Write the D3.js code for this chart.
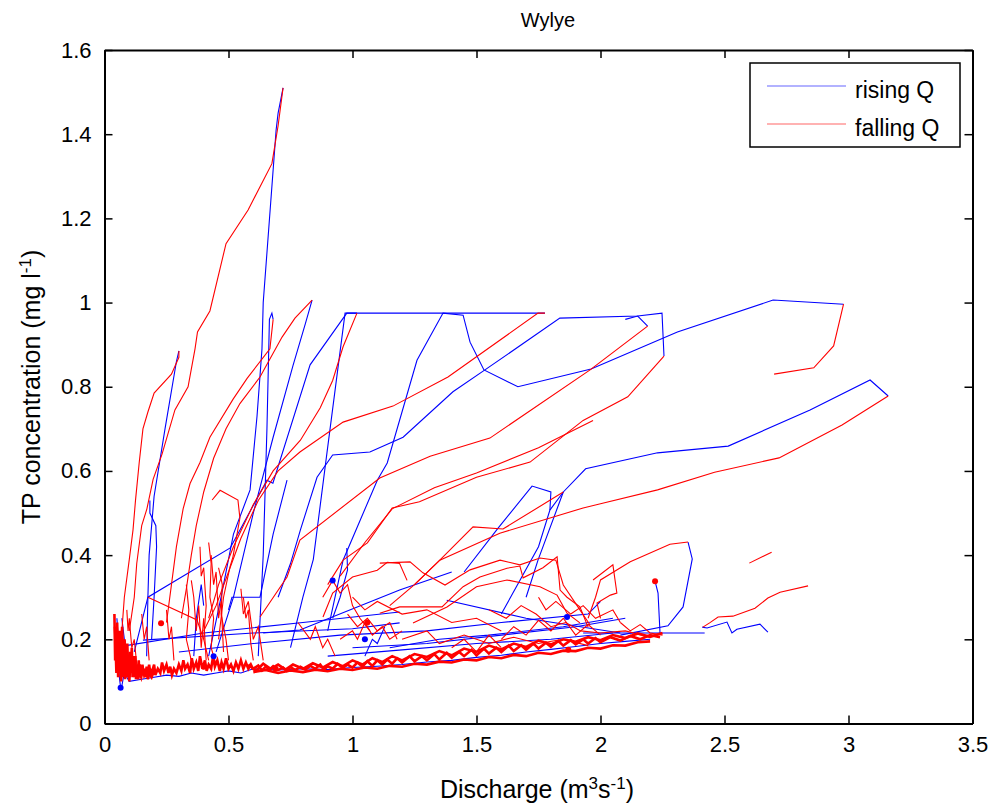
<!DOCTYPE html>
<html>
<head>
<meta charset="utf-8">
<script src="https://cdn.jsdelivr.net/npm/d3@7"></script>
<style>
  body { margin: 0; background: #fff; }
  text { font-family: "Liberation Sans", Arial, sans-serif; fill: #000; }
</style>
</head>
<body>
<svg width="995" height="810"></svg>
<script>
// axis ticks
const xTicks = [0, 0.5, 1, 1.5, 2, 2.5, 3, 3.5];
const yTicks = [0, 0.2, 0.4, 0.6, 0.8, 1, 1.2, 1.4, 1.6];

// storm events: rising limb (blue) and falling limb (red), [Q, TP]
const risingLimbs = [
  [[0.42,0.16],[0.47,0.3],[0.52,0.45],[0.587,0.555],[0.615,0.73],[0.635,0.89],[0.64,1.0],[0.692,1.41],[0.70,1.45],[0.72,1.51]],
  [[0.17,0.16],[0.175,0.30],[0.18,0.40],[0.2,0.54],[0.244,0.70],[0.29,0.86],[0.30,0.885]],
  [[0.62,0.16],[0.64,0.4],[0.655,0.7],[0.665,0.96],[0.675,0.975],[0.68,0.96]],
  [[0.45,0.17],[0.52,0.30],[0.60,0.50],[0.68,0.68],[0.76,0.85],[0.81,0.95],[0.837,1.006]],
  [[0.12,0.17],[0.175,0.30],[0.507,0.417],[0.655,0.578],[0.679,0.571],[0.829,0.852],[0.977,0.975],[1.776,0.975]],
  [[0.75,0.18],[0.80,0.30],[0.842,0.39],[0.897,0.643],[0.97,0.975],[1.018,0.975]],
  [[0.90,0.22],[0.962,0.388],[1.10,0.578],[1.14,0.619],[1.26,0.863],[1.365,0.975],[1.446,0.970],[1.474,0.906],[1.530,0.840],[1.667,0.80],[1.962,0.842],[2.31,0.93],[2.696,1.006],[2.98,0.996]],
  [[0.70,0.30],[0.75,0.38],[0.79,0.46],[0.857,0.585],[0.92,0.638],[1.07,0.645],[1.204,0.68],[1.405,0.788],[1.534,0.84],[1.836,0.963],[2.15,0.968],[2.248,0.975],[2.256,0.873]],
  [[2.10,0.96],[2.15,0.968],[2.19,0.944]],
  [[1.60,0.26],[1.75,0.42],[1.796,0.507],[1.85,0.55],[1.94,0.605],[2.23,0.643],[2.515,0.659],[2.845,0.745],[3.087,0.816],[3.16,0.778]],
  [[1.45,0.36],[1.587,0.464],[1.724,0.564],[1.80,0.55],[1.796,0.507]],
  [[1.70,0.30],[1.748,0.388],[1.85,0.55]],
  [[0.50,0.27],[0.514,0.30],[0.627,0.30],[0.68,0.45],[0.736,0.578]],
  [[2.08,0.21],[2.272,0.232],[2.333,0.277],[2.37,0.391],[2.353,0.431]],
  [[2.24,0.215],[2.232,0.31],[2.22,0.338]],
  [[2.41,0.229],[2.43,0.227],[2.51,0.241],[2.53,0.215],[2.55,0.224],[2.643,0.236],[2.675,0.217]],
  [[0.055,0.182],[0.40,0.215],[0.80,0.24],[1.19,0.265]],
  [[0.155,0.198],[0.60,0.215],[1.0,0.225],[1.19,0.239]],
  [[0.64,0.215],[0.788,0.222],[1.19,0.317],[1.40,0.36]],
  [[1.38,0.293],[1.70,0.25],[2.08,0.215]],
  [[1.93,0.215],[2.20,0.215],[2.42,0.215]],
  [[0.183,0.53],[0.183,0.50],[0.207,0.47],[0.21,0.42],[0.20,0.30],[0.19,0.2]],
  [[0.977,0.417],[0.98,0.365],[0.95,0.30],[0.92,0.25]],
  [[0.05,0.25],[0.06,0.16],[0.05,0.12]],
  [[1.15,0.18],[1.35,0.20],[1.55,0.21],[1.85,0.23],[2.05,0.25]],
  [[0.30,0.17],[0.60,0.19],[0.95,0.21],[1.30,0.22],[1.60,0.24],[1.95,0.26],[2.0,0.29]],
  [[1.0,0.18],[1.3,0.19],[1.6,0.21],[1.9,0.23],[2.1,0.25]],
  [[0.9,0.16],[1.2,0.175],[1.5,0.19],[1.8,0.2],[2.05,0.215]],
  [[0.07,0.25],[0.08,0.2],[0.1,0.15]],
  [[0.36,0.16],[0.37,0.25],[0.39,0.33],[0.40,0.28]],
  [[1.05,0.16],[1.08,0.2],[1.1,0.19],[1.13,0.23]]
];

const fallingLimbs = [
  [[0.72,1.51],[0.70,1.42],[0.675,1.33],[0.579,1.22],[0.49,1.14],[0.425,0.98],[0.375,0.93],[0.365,0.89],[0.337,0.80],[0.284,0.745],[0.232,0.64],[0.196,0.58],[0.171,0.51],[0.15,0.47],[0.13,0.38],[0.12,0.3],[0.1,0.22]],
  [[0.30,0.885],[0.30,0.87],[0.27,0.83],[0.20,0.785],[0.175,0.74],[0.155,0.70],[0.14,0.62],[0.125,0.53],[0.115,0.46],[0.1,0.39],[0.08,0.30],[0.07,0.22],[0.06,0.17]],
  [[0.68,0.96],[0.667,0.89],[0.575,0.82],[0.518,0.77],[0.425,0.68],[0.385,0.62],[0.345,0.57],[0.317,0.51],[0.29,0.42],[0.27,0.33],[0.25,0.24]],
  [[0.837,1.006],[0.768,0.963],[0.716,0.918],[0.627,0.823],[0.546,0.76],[0.49,0.70],[0.44,0.63],[0.40,0.55],[0.37,0.47],[0.35,0.40],[0.33,0.32],[0.31,0.25]],
  [[1.776,0.975],[1.748,0.975],[1.385,0.823],[1.163,0.754],[0.962,0.716],[0.788,0.645],[0.70,0.60],[0.62,0.53],[0.55,0.44],[0.50,0.36],[0.45,0.28],[0.40,0.22]],
  [[1.018,0.975],[0.962,0.895],[0.92,0.815],[0.87,0.75],[0.79,0.673],[0.68,0.60],[0.60,0.52],[0.52,0.42],[0.46,0.33],[0.42,0.25]],
  [[2.98,0.996],[2.94,0.897],[2.86,0.845],[2.70,0.83]],
  [[2.256,0.873],[2.11,0.776],[1.93,0.72],[1.716,0.621],[1.50,0.585],[1.27,0.527],[1.16,0.512],[1.06,0.429],[0.962,0.388],[0.90,0.33]],
  [[2.19,0.944],[1.958,0.84],[1.554,0.678],[1.313,0.635],[1.11,0.583],[0.788,0.436],[0.736,0.348],[0.627,0.253]],
  [[3.16,0.778],[2.974,0.709],[2.72,0.631],[2.46,0.597],[2.23,0.555],[2.0,0.522],[1.93,0.512],[1.594,0.452],[1.352,0.388],[1.25,0.33],[1.15,0.28]],
  [[1.85,0.55],[1.607,0.462],[1.486,0.467],[1.352,0.388],[1.25,0.33]],
  [[1.97,0.72],[1.75,0.655],[1.50,0.595],[1.33,0.56],[1.16,0.51],[1.05,0.43],[0.95,0.35]],
  [[2.353,0.431],[2.28,0.426],[2.12,0.384],[2.0,0.341],[1.98,0.30],[1.95,0.25]],
  [[2.60,0.381],[2.69,0.407]],
  [[2.837,0.327],[2.724,0.312],[2.675,0.298],[2.623,0.274],[2.534,0.255],[2.474,0.253],[2.44,0.239],[2.413,0.229]],
  [[1.11,0.262],[1.19,0.277],[1.361,0.277],[1.446,0.325],[1.514,0.348],[1.623,0.369],[1.675,0.374],[1.688,0.346],[1.768,0.37],[1.825,0.396],[1.837,0.317],[1.865,0.30],[1.917,0.277],[1.95,0.229]],
  [[1.244,0.239],[1.381,0.277],[1.50,0.325],[1.623,0.341],[1.756,0.325],[1.825,0.305],[1.865,0.262],[1.917,0.239]],
  [[1.11,0.381],[1.232,0.384],[1.284,0.358],[1.373,0.329],[1.474,0.365],[1.595,0.388],[1.675,0.377],[1.756,0.393],[1.82,0.388],[1.85,0.329],[1.917,0.27],[1.958,0.234]],
  [[1.97,0.341],[2.05,0.377],[2.066,0.31],[2.04,0.305],[1.986,0.286],[2.0,0.25]],
  [[0.881,0.253],[0.92,0.31],[1.0,0.348],[1.1,0.364],[1.14,0.383],[1.19,0.38],[1.22,0.34]],
  [[0.95,0.20],[1.0,0.22],[1.02,0.2],[1.05,0.24],[1.08,0.21],[1.12,0.23],[1.15,0.2],[1.2,0.22]],
  [[0.88,0.30],[0.92,0.34],[0.95,0.31],[0.98,0.33],[1.0,0.28],[1.03,0.25],[1.07,0.22]],
  [[0.434,0.531],[0.466,0.554],[0.538,0.531],[0.546,0.488],[0.518,0.396],[0.506,0.372],[0.48,0.30],[0.46,0.2]],
  [[0.175,0.30],[0.373,0.246],[0.40,0.20]],
  [[0.35,0.34],[0.36,0.30],[0.37,0.22],[0.38,0.28],[0.39,0.18],[0.40,0.25],[0.41,0.15]],
  [[0.43,0.40],[0.44,0.33],[0.45,0.36],[0.46,0.25],[0.47,0.29],[0.48,0.17]],
  [[0.55,0.32],[0.56,0.26],[0.58,0.29],[0.60,0.2],[0.62,0.23],[0.64,0.15]],
  [[0.15,0.26],[0.16,0.20],[0.17,0.23],[0.18,0.15]],
  [[1.60,0.20],[1.65,0.23],[1.70,0.21],[1.75,0.245],[1.80,0.22],[1.85,0.25],[1.90,0.21],[1.95,0.235],[2.0,0.21]],
  [[1.40,0.18],[1.45,0.2],[1.50,0.17],[1.55,0.21],[1.60,0.18]],
  [[0.42,0.43],[0.43,0.38],[0.425,0.3],[0.44,0.25],[0.43,0.18],[0.45,0.14]],
  [[0.385,0.42],[0.39,0.35],[0.40,0.37],[0.41,0.28],[0.40,0.2],[0.42,0.15]],
  [[0.33,0.33],[0.34,0.27],[0.33,0.2],[0.35,0.15]],
  [[0.46,0.37],[0.475,0.33],[0.47,0.26],[0.49,0.2],[0.5,0.15]],
  [[0.56,0.30],[0.57,0.25],[0.58,0.27],[0.59,0.19],[0.6,0.15]],
  [[0.25,0.27],[0.26,0.2],[0.27,0.23],[0.28,0.15]],
  [[1.0,0.30],[1.05,0.27],[1.1,0.29],[1.2,0.26],[1.3,0.27],[1.4,0.24],[1.5,0.25],[1.6,0.22]],
  [[1.2,0.20],[1.3,0.22],[1.35,0.19],[1.45,0.21],[1.55,0.19],[1.65,0.205],[1.75,0.19],[1.85,0.2],[1.95,0.185]],
  [[1.55,0.27],[1.62,0.25],[1.68,0.28],[1.74,0.26],[1.8,0.23],[1.86,0.24],[1.92,0.22],[2.0,0.215],[2.1,0.22],[2.2,0.205]],
  [[1.75,0.30],[1.78,0.27],[1.82,0.29],[1.88,0.26],[1.93,0.28],[1.98,0.25],[2.05,0.27],[2.08,0.24]],
  [[0.98,0.26],[1.02,0.23],[1.06,0.25],[1.1,0.22],[1.15,0.24],[1.18,0.2]],
  [[0.78,0.24],[0.83,0.2],[0.85,0.23],[0.88,0.18],[0.9,0.2],[0.93,0.16]],
  [[2.08,0.24],[2.12,0.22],[2.16,0.235],[2.2,0.215],[2.25,0.21]],
  [[0.09,0.27],[0.095,0.22],[0.1,0.25],[0.11,0.18],[0.12,0.2],[0.13,0.14]]
];

// base-flow scatter along the bottom, [Q, TP]
const baseRed = [
  [[0.04,0.26],[0.043,0.15],[0.046,0.22],[0.05,0.13],[0.052,0.19],[0.055,0.11],[0.058,0.21],[0.062,0.14],[0.064,0.18],[0.067,0.10],[0.07,0.16],[0.072,0.12],[0.075,0.20],[0.078,0.13],[0.08,0.17],[0.083,0.105],[0.086,0.15],[0.09,0.12],[0.092,0.19],[0.095,0.13],[0.098,0.16],[0.1,0.11],[0.103,0.14],[0.106,0.12],[0.11,0.18],[0.113,0.11],[0.116,0.145],[0.12,0.125],[0.124,0.16],[0.127,0.105],[0.13,0.14],[0.134,0.12],[0.138,0.15],[0.141,0.11],[0.145,0.135],[0.149,0.115],[0.153,0.14],[0.157,0.12],[0.16,0.13],[0.165,0.11],[0.17,0.135],[0.175,0.12],[0.18,0.14],[0.186,0.115],[0.19,0.13]],
  [[0.045,0.18],[0.048,0.12],[0.053,0.16],[0.057,0.13],[0.06,0.2],[0.065,0.12],[0.069,0.15],[0.073,0.11],[0.078,0.14],[0.082,0.12],[0.087,0.17],[0.091,0.11],[0.096,0.13],[0.1,0.10],[0.105,0.15],[0.11,0.13],[0.115,0.12],[0.12,0.14],[0.126,0.115],[0.13,0.13],[0.136,0.105],[0.14,0.125],[0.148,0.11],[0.155,0.13],[0.16,0.115],[0.168,0.125],[0.175,0.105],[0.18,0.12],[0.19,0.11],[0.2,0.125]],
  [[0.042,0.23],[0.047,0.17],[0.051,0.24],[0.056,0.15],[0.061,0.22],[0.066,0.14],[0.071,0.23],[0.076,0.15],[0.081,0.2],[0.086,0.13],[0.091,0.16],[0.097,0.12],[0.102,0.17],[0.108,0.13],[0.114,0.16],[0.121,0.11],[0.128,0.14],[0.135,0.115],[0.142,0.14],[0.15,0.12]],
  [[0.19,0.12],[0.2,0.14],[0.205,0.115],[0.215,0.13],[0.225,0.12],[0.232,0.145],[0.24,0.125],[0.25,0.14],[0.258,0.12],[0.265,0.135],[0.272,0.115],[0.28,0.13],[0.29,0.12],[0.3,0.14],[0.31,0.125],[0.318,0.15],[0.325,0.13],[0.335,0.14],[0.345,0.12],[0.352,0.155],[0.36,0.13],[0.37,0.145],[0.378,0.125],[0.385,0.16],[0.395,0.13],[0.405,0.15],[0.412,0.125],[0.42,0.14],[0.43,0.13],[0.438,0.16],[0.445,0.135],[0.455,0.15],[0.465,0.125],[0.472,0.145],[0.48,0.13],[0.49,0.155],[0.5,0.13],[0.51,0.14],[0.52,0.125],[0.53,0.145],[0.54,0.13],[0.55,0.15],[0.56,0.13],[0.57,0.145],[0.58,0.13],[0.59,0.14],[0.6,0.128]],
  [[0.6,0.13],[0.62,0.138],[0.635,0.126],[0.65,0.135],[0.665,0.128],[0.68,0.136],[0.70,0.127],[0.72,0.133],[0.735,0.125],[0.75,0.134],[0.77,0.127],[0.79,0.135],[0.81,0.128],[0.83,0.137],[0.85,0.13],[0.87,0.14],[0.885,0.128],[0.9,0.136],[0.92,0.13],[0.94,0.142],[0.96,0.132],[0.98,0.14],[1.0,0.133],[1.02,0.145],[1.04,0.135],[1.06,0.148],[1.08,0.137],[1.1,0.15],[1.12,0.14],[1.14,0.152],[1.16,0.142],[1.18,0.155],[1.2,0.145],[1.23,0.16],[1.25,0.148],[1.28,0.16],[1.3,0.15],[1.33,0.165],[1.35,0.152],[1.38,0.168],[1.4,0.156],[1.43,0.17],[1.45,0.16],[1.48,0.175],[1.5,0.162],[1.53,0.178],[1.55,0.166],[1.58,0.18],[1.6,0.17],[1.63,0.185],[1.65,0.172],[1.68,0.186],[1.7,0.175],[1.73,0.19],[1.75,0.178],[1.78,0.192],[1.8,0.182],[1.83,0.196],[1.85,0.185],[1.88,0.198],[1.9,0.188],[1.93,0.2],[1.95,0.19],[1.98,0.203],[2.0,0.193],[2.04,0.205],[2.08,0.197],[2.12,0.208],[2.16,0.2],[2.2,0.21],[2.24,0.205]],
  [[0.58,0.14],[0.61,0.125],[0.64,0.142],[0.67,0.13],[0.7,0.14],[0.73,0.128],[0.76,0.14],[0.8,0.13],[0.84,0.143],[0.88,0.133],[0.92,0.146],[0.96,0.136],[1.0,0.15],[1.04,0.14],[1.08,0.155],[1.12,0.146],[1.16,0.16],[1.2,0.15],[1.25,0.165],[1.3,0.158],[1.35,0.172],[1.4,0.162],[1.45,0.178],[1.5,0.17],[1.55,0.185],[1.6,0.176],[1.65,0.19],[1.7,0.182],[1.75,0.197],[1.8,0.188],[1.85,0.2],[1.9,0.194],[1.95,0.205],[2.0,0.198],[2.05,0.21],[2.1,0.203],[2.15,0.214],[2.2,0.206],[2.25,0.215]],
  [[0.6,0.122],[0.65,0.127],[0.7,0.12],[0.75,0.126],[0.8,0.122],[0.85,0.128],[0.9,0.124],[0.95,0.13],[1.0,0.127],[1.05,0.133],[1.1,0.13],[1.15,0.137],[1.2,0.135],[1.25,0.142],[1.3,0.14],[1.35,0.147],[1.4,0.145],[1.45,0.152],[1.5,0.15],[1.55,0.158],[1.6,0.155],[1.65,0.163],[1.7,0.16],[1.75,0.168],[1.8,0.165],[1.85,0.173],[1.9,0.172],[1.95,0.18],[2.0,0.178],[2.05,0.186],[2.1,0.185],[2.15,0.193],[2.2,0.195]]
];

const baseBlue = [
  [[0.05,0.2],[0.06,0.11],[0.065,0.085],[0.07,0.09],[0.08,0.12],[0.1,0.1],[0.15,0.105],[0.2,0.11],[0.25,0.115],[0.3,0.112],[0.35,0.12],[0.4,0.115],[0.45,0.12],[0.5,0.125],[0.55,0.12],[0.6,0.13],[0.7,0.127],[0.8,0.13],[0.9,0.128],[1.0,0.133],[1.1,0.136],[1.2,0.14],[1.3,0.146],[1.4,0.15],[1.5,0.157],[1.6,0.162],[1.7,0.17],[1.8,0.176],[1.9,0.183],[2.0,0.19],[2.1,0.195],[2.2,0.2]]
];

// event start markers, [Q, TP]
const redDots = [[0.228,0.238],[2.22,0.338],[1.06,0.24],[0.40,0.135],[1.87,0.175],[0.69,0.13]];
const blueDots = [[1.865,0.253],[0.92,0.34],[0.065,0.085],[1.05,0.20],[0.44,0.16]];

const svg = d3.select("svg");
const x = d3.scaleLinear().domain([0, 3.5]).range([104.5, 972.5]);
const y = d3.scaleLinear().domain([0, 1.6]).range([723.5, 50]);
const line = d3.line().x(d => x(d[0])).y(d => y(d[1]));

const plot = svg.append("g");

plot.selectAll(".rise").data(risingLimbs.concat(baseBlue)).enter().append("path")
    .attr("d", line).attr("fill", "none").attr("stroke", "#0000ff").attr("stroke-width", 1.1);

plot.selectAll(".base").data(baseRed).enter().append("path")
    .attr("d", line).attr("fill", "none").attr("stroke", "#ff0000").attr("stroke-width", 2.6);

plot.selectAll(".fall").data(fallingLimbs).enter().append("path")
    .attr("d", line).attr("fill", "none").attr("stroke", "#ff0000").attr("stroke-width", 1.1);

plot.selectAll(".rdot").data(redDots).enter().append("circle")
    .attr("cx", d => x(d[0])).attr("cy", d => y(d[1])).attr("r", 3).attr("fill", "#ff0000");
plot.selectAll(".bdot").data(blueDots).enter().append("circle")
    .attr("cx", d => x(d[0])).attr("cy", d => y(d[1])).attr("r", 3).attr("fill", "#0000ff");

// axes, ticks pointing inward on all four sides
const fmt = d3.format("~");
const axes = [
  { a: d3.axisBottom(x).tickValues(xTicks).tickFormat(fmt), t: "translate(0,723.5)" },
  { a: d3.axisTop(x).tickValues(xTicks).tickFormat(""), t: "translate(0,50)" },
  { a: d3.axisLeft(y).tickValues(yTicks).tickFormat(fmt), t: "translate(104.5,0)" },
  { a: d3.axisRight(y).tickValues(yTicks).tickFormat(""), t: "translate(972.5,0)" }
];
axes.forEach(o => {
  const g = svg.append("g").attr("transform", o.t)
      .call(o.a.tickSizeInner(-8).tickSizeOuter(0).tickPadding(13));
  g.select(".domain").attr("stroke", "#000").attr("stroke-width", 2);
  g.selectAll(".tick line").attr("stroke", "#000").attr("stroke-width", 1.5);
  g.selectAll(".tick text").style("font-size", "22px").attr("fill", "#000");
});

svg.append("text").attr("x", 548).attr("y", 27).attr("text-anchor", "middle")
    .style("font-size", "20px").text("Wylye");

const xl = svg.append("text").attr("x", 537).attr("y", 798).attr("text-anchor", "middle")
    .style("font-size", "25px");
xl.append("tspan").text("Discharge (m");
xl.append("tspan").attr("baseline-shift", "super").style("font-size", "17px").text("3");
xl.append("tspan").text("s");
xl.append("tspan").attr("baseline-shift", "super").style("font-size", "17px").text("-1");
xl.append("tspan").text(")");

const yl = svg.append("text").attr("transform", "translate(40,387) rotate(-90)")
    .attr("text-anchor", "middle").style("font-size", "25px");
yl.append("tspan").text("TP concentration (mg l");
yl.append("tspan").attr("baseline-shift", "super").style("font-size", "17px").text("-1");
yl.append("tspan").text(")");

// legend
const lg = svg.append("g");
lg.append("rect").attr("x", 750).attr("y", 63).attr("width", 210).attr("height", 84)
    .attr("fill", "#fff").attr("stroke", "#000").attr("stroke-width", 1.5);
const legendItems = [["rising Q", "#0000ff"], ["falling Q", "#ff0000"]];
legendItems.forEach((d, i) => {
  const yy = 86 + i * 38;
  lg.append("line").attr("x1", 767).attr("x2", 846).attr("y1", yy).attr("y2", yy)
      .attr("stroke", d[1]).attr("stroke-width", 1).attr("opacity", 0.6);
  lg.append("text").attr("x", 855).attr("y", yy + 12).style("font-size", "23px").text(d[0]);
});
</script>
</body>
</html>
